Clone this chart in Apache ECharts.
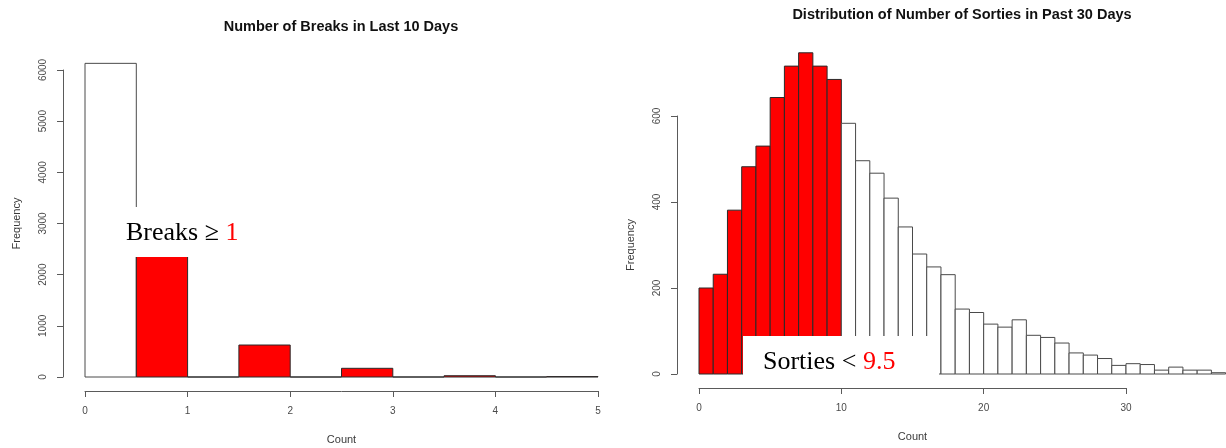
<!DOCTYPE html>
<html>
<head>
<meta charset="utf-8">
<script src="https://cdn.jsdelivr.net/npm/echarts@6/dist/echarts.min.js"></script>
<style>
html,body{margin:0;padding:0;background:#fff;}
#chart{width:1226px;height:448px;}
</style>
</head>
<body>
<div id="chart"></div>
<script>
// ---- Data ----
const breaksTitle = 'Number of Breaks in Last 10 Days';
const breaksEdges = [0, 0.5, 1, 1.5, 2, 2.5, 3, 3.5, 4, 4.5, 5];
const breaksCounts = [6130, 2700, 0, 625, 0, 170, 0, 25, 0, 8];
const breaksRedFromBin = 1;           // bins at index >= 1 are highlighted
const breaksXTicks = [0, 5, 1];       // min, max, interval
const breaksYTicks = [0, 6000, 1000];

const sortiesTitle = 'Distribution of Number of Sorties in Past 30 Days';
const sortiesEdges = [0,1,2,3,4,5,6,7,8,9,10,11,12,13,14,15,16,17,18,19,20,21,22,23,24,25,26,27,28,29,30,31,32,33,34,35,36,37];
const sortiesCounts = [200, 232, 381, 482, 530, 643, 716, 747, 716, 685,
                       583, 496, 467, 409, 342, 279, 249, 231, 151, 143,
                       116, 109, 126, 90, 85, 72, 49, 44, 36, 20,
                       24, 22, 9, 16, 9, 9, 3];
const sortiesRedBelowBin = 10;        // bins at index < 10 are highlighted
const sortiesXTicks = [0, 30, 10];
const sortiesYTicks = [0, 600, 200];

const xName = 'Count';
const yName = 'Frequency';

// ---- Build histogram rows ----
function rows(edges, counts, isRed) {
  return counts.map((c, i) => [edges[i], edges[i + 1], c, isRed(i) ? 1 : 0]);
}
const breaksRows = rows(breaksEdges, breaksCounts, i => i >= breaksRedFromBin);
const sortiesRows = rows(sortiesEdges, sortiesCounts, i => i < sortiesRedBelowBin);

function renderHist(params, api) {
  const x0 = api.value(0), x1 = api.value(1), y = api.value(2), red = api.value(3);
  const p0 = api.coord([x0, 0]);
  const p1 = api.coord([x1, y]);
  return {
    type: 'rect',
    shape: { x: p0[0], y: p1[1], width: p1[0] - p0[0], height: p0[1] - p1[1] },
    style: { fill: red ? '#ff0000' : '#ffffff', stroke: red ? '#2a2a2a' : '#4a4a4a', lineWidth: 1 }
  };
}

const axisGray = '#5a5a5a';
const labelStyle = { color: '#4a4a4a', fontFamily: 'Liberation Sans, Arial, sans-serif', fontSize: 10,
  formatter: v => String(v) };
const nameStyle = { color: '#3a3a3a', fontFamily: 'Liberation Sans, Arial, sans-serif', fontSize: 11 };

function xAxisCfg(grid, t, offset) {
  return {
    type: 'value', gridIndex: grid, min: t[0], max: t[1], interval: t[2],
    position: 'bottom', offset: offset,
    axisLine: { show: true, onZero: false, lineStyle: { color: axisGray, width: 1 } },
    axisTick: { show: true, length: 6, lineStyle: { color: axisGray } },
    axisLabel: Object.assign({ margin: 15 }, labelStyle),
    splitLine: { show: false },
    name: xName, nameLocation: 'middle', nameGap: 43, nameTextStyle: nameStyle
  };
}
function yAxisCfg(grid, t, offset) {
  return {
    type: 'value', gridIndex: grid, min: t[0], max: t[1], interval: t[2],
    position: 'left', offset: offset,
    axisLine: { show: true, onZero: false, lineStyle: { color: axisGray, width: 1 } },
    axisTick: { show: true, length: 6, lineStyle: { color: axisGray } },
    axisLabel: Object.assign({ margin: 15, rotate: 90 }, labelStyle),
    splitLine: { show: false },
    name: yName, nameLocation: 'middle', nameRotate: 90, nameGap: 41, nameTextStyle: nameStyle
  };
}

const serif = 'Liberation Serif, Times New Roman, serif';
const titleFont = { fontSize: 14.5, fontWeight: 'bold', color: '#111', fontFamily: 'Liberation Sans, Arial, sans-serif' };

const option = {
  animation: false,
  backgroundColor: '#ffffff',
  title: [
    { text: breaksTitle, left: 336, top: 14, textAlign: 'center', textStyle: titleFont },
    { text: sortiesTitle, left: 957, top: 2, textAlign: 'center', textStyle: titleFont }
  ],
  grid: [
    { left: 85, width: 513, top: 70, height: 307, outerBoundsMode: 'none', containLabel: false },
    { left: 699, width: 427, top: 116, height: 258, outerBoundsMode: 'none', containLabel: false }
  ],
  xAxis: [ xAxisCfg(0, breaksXTicks, 14), xAxisCfg(1, sortiesXTicks, 14) ],
  yAxis: [ yAxisCfg(0, breaksYTicks, 22), yAxisCfg(1, sortiesYTicks, 22) ],
  series: [
    { type: 'custom', xAxisIndex: 0, yAxisIndex: 0, data: breaksRows, renderItem: renderHist,
      encode: { x: [0, 1], y: 2 }, clip: false, silent: true },
    { type: 'custom', xAxisIndex: 1, yAxisIndex: 1, data: sortiesRows, renderItem: renderHist,
      encode: { x: [0, 1], y: 2 }, clip: false, silent: true }
  ],
  graphic: [
    { type: 'rect', left: 118, top: 207, shape: { width: 132, height: 50 }, style: { fill: '#ffffff' }, z: 100 },
    { type: 'text', left: 126, top: 220, z: 101,
      style: { text: '{a|Breaks ≥ }{r|1}',
        rich: { a: { fontFamily: serif, fontSize: 26, fill: '#000' }, r: { fontFamily: serif, fontSize: 26, fill: '#ff0000' } } } },
    { type: 'rect', left: 743, top: 336, shape: { width: 196, height: 49 }, style: { fill: '#ffffff' }, z: 100 },
    { type: 'text', left: 763, top: 349, z: 101,
      style: { text: '{a|Sorties < }{r|9.5}',
        rich: { a: { fontFamily: serif, fontSize: 26, fill: '#000' }, r: { fontFamily: serif, fontSize: 26, fill: '#ff0000' } } } }
  ]
};

const chart = echarts.init(document.getElementById('chart'), null, { renderer: 'canvas' });
chart.setOption(option);
</script>
</body>
</html>
